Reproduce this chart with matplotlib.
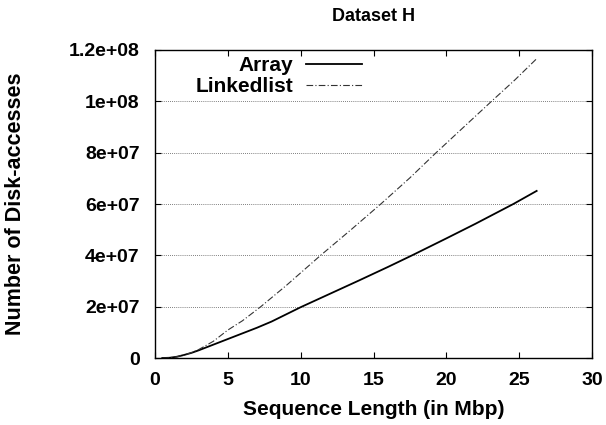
import matplotlib
matplotlib.use("Agg")
import matplotlib.pyplot as plt

plt.rcParams['font.family'] = ['Liberation Sans', 'DejaVu Sans']
plt.rcParams['font.weight'] = 'bold'

# sequence length (Mbp) vs number of disk accesses
array_x = [0.5, 1.0, 1.5, 2.0, 2.5, 3.0, 4.0, 5.0, 6.0, 7.0, 8.0, 10.0, 12.0,
           14.0, 16.0, 17.65, 20.0, 22.0, 24.6, 26.2]
array_y = [0, 0.1e6, 0.5e6, 1.2e6, 2.0e6, 3.0e6, 5.2e6, 7.4e6, 9.6e6, 11.8e6,
           14.2e6, 19.8e6, 25e6, 30.2e6, 35.5e6, 40e6, 46.6e6, 52.3e6, 60e6, 65.1e6]

linked_x = [0.5, 1.0, 1.5, 2.0, 2.5, 3.0, 4.0, 5.0, 6.0, 7.26, 9.0, 11.37, 13.5,
            15.5, 17.5, 19.3, 21.2, 23.1, 24.7, 26.2]
linked_y = [0, 0.1e6, 0.5e6, 1.2e6, 2.1e6, 3.3e6, 6.5e6, 10.9e6, 14.5e6, 20e6,
            28.2e6, 40e6, 50.2e6, 60e6, 70.2e6, 80e6, 90e6, 100e6, 108.3e6, 116.6e6]

x_ticks = [0, 5, 10, 15, 20, 25, 30]
y_ticks = [0, 2e7, 4e7, 6e7, 8e7, 1e8, 1.2e8]
y_tick_labels = ['0', '2e+07', '4e+07', '6e+07', '8e+07', '1e+08', '1.2e+08']

fig = plt.figure(figsize=(6.06, 4.25), dpi=100)
ax = fig.add_axes([0.2558, 0.1576, 0.9769 - 0.2558, 0.8824 - 0.1576])

ax.plot(array_x, array_y, color='black', lw=1.3, label='Array')
ax.plot(linked_x, linked_y, color='#333333', lw=0.8, ls=(0, (6, 2, 1, 2)),
        label='Linkedlist')

ax.set_xlim(0, 30)
ax.set_ylim(0, 1.2e8)
ax.set_xticks(x_ticks)
ax.set_yticks(y_ticks)
ax.set_yticklabels(y_tick_labels)
ax.tick_params(direction='in', length=4.5, width=0.8, top=True, right=True,
               labelsize=14)
ax.tick_params(axis='x', pad=10)
ax.tick_params(axis='y', pad=11)
for lab in ax.get_xticklabels() + ax.get_yticklabels():
    lab.set_fontweight('bold')

ax.yaxis.grid(True, ls=(0, (1, 1.5)), color='#555555', lw=0.6)
for s in ax.spines.values():
    s.set_linewidth(1.0)

ax.set_xlabel('Sequence Length (in Mbp)', fontsize=15, fontweight='bold', labelpad=8)
ax.set_ylabel('Number of Disk-accesses', fontsize=15.5, fontweight='bold', labelpad=31)
ax.set_title('Dataset H', fontsize=13, fontweight='bold', pad=21)

ax.legend(loc='upper right', bbox_to_anchor=(0.474, 0.98), frameon=False,
          markerfirst=False, handlelength=2.7, handletextpad=0.6,
          labelspacing=0.1, borderpad=0, borderaxespad=0,
          prop={'weight': 'bold', 'size': 15})

fig.savefig('out.png', dpi=100)
